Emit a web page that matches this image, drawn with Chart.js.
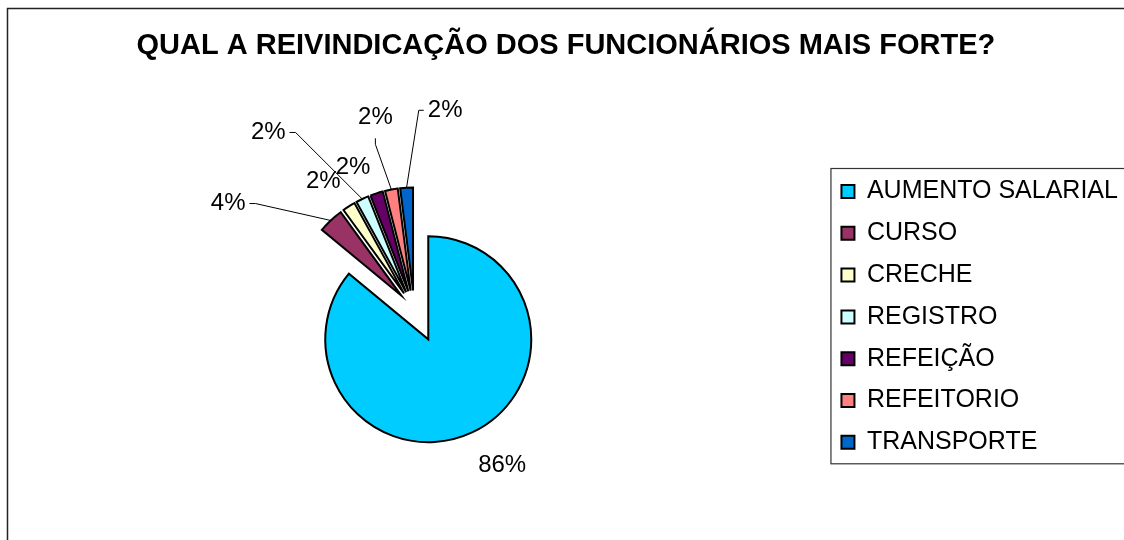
<!DOCTYPE html>
<html lang="pt">
<head>
    <meta charset="UTF-8">
    <title>Reivindicação dos funcionários</title>
    <script src="https://cdn.jsdelivr.net/npm/chart.js@4"></script>
    <style>
        body { margin: 0; background: #fff; }
        #wrap { width: 1124px; height: 540px; position: relative; }
    </style>
</head>
<body>
<div id="wrap"><canvas id="pieChart"></canvas></div>
<script>
    // data
    const categories = ["AUMENTO SALARIAL", "CURSO", "CRECHE", "REGISTRO", "REFEIÇÃO", "REFEITORIO", "TRANSPORTE"];
    const percentages = [86, 4, 2, 2, 2, 2, 2];
    const sliceColors = ["#00CCFF", "#993366", "#FFFFCC", "#CCFFFF", "#660066", "#FF8080", "#0066CC"];

    // how far each slice is pulled out of the pie (px)
    const explode = [33, 19, 19, 19, 19, 19, 19];
    // label placement relative to each slice: turn (deg) from bisector, gap outside the rim, leader side
    const labelPlacement = [
        { turn: -5.2, gap: 43, leader: null },
        { turn: -18.8, gap: 93, leader: "right" },
        { turn: -3.4, gap: 35, leader: null },
        { turn: -15.6, gap: 108, leader: "right" },
        { turn: -6, gap: 33, leader: null },
        { turn: -0.7, gap: 74, leader: "bottom" },
        { turn: 13.7, gap: 80, leader: "left" }
    ];

    Chart.defaults.font.family = '"Liberation Sans", Arial, sans-serif';
    Chart.defaults.color = "#000";

    const frame = {
        id: "frame",
        beforeDraw(chart) {
            const ctx = chart.ctx;
            ctx.save();
            ctx.fillStyle = "#fff";
            ctx.fillRect(0, 0, chart.width, chart.height);
            ctx.strokeStyle = "#222";
            ctx.lineWidth = 1.5;
            ctx.strokeRect(7.5, 8.5, chart.width + 20, chart.height + 20);
            // box round the legend
            const boxes = chart.legend.legendHitBoxes;
            if (boxes && boxes.length) {
                const first = boxes[0], last = boxes[boxes.length - 1];
                const top = first.top - 10.5;
                const bottom = last.top + last.height + 9;
                ctx.lineWidth = 1.2;
                ctx.strokeStyle = "#333";
                ctx.strokeRect(first.left - 10.5, top, chart.width + 20, bottom - top);
            }
            ctx.restore();
        }
    };

    const explodeSlices = {
        id: "explodeSlices",
        beforeDatasetsDraw(chart) {
            const area = chart.chartArea;
            const cx = (area.left + area.right) / 2;
            const cy = (area.top + area.bottom) / 2;
            chart.getDatasetMeta(0).data.forEach((arc, i) => {
                const mid = (arc.startAngle + arc.endAngle) / 2;
                arc.x = cx + Math.cos(mid) * explode[i];
                arc.y = cy + Math.sin(mid) * explode[i];
            });
        }
    };

    const pctLabels = {
        id: "pctLabels",
        afterDatasetsDraw(chart) {
            const ctx = chart.ctx;
            ctx.save();
            ctx.font = '24px "Liberation Sans", Arial, sans-serif';
            ctx.fillStyle = "#000";
            ctx.strokeStyle = "#000";
            ctx.lineWidth = 1;
            ctx.textAlign = "center";
            ctx.textBaseline = "middle";
            chart.getDatasetMeta(0).data.forEach((arc, i) => {
                const place = labelPlacement[i];
                const mid = (arc.startAngle + arc.endAngle) / 2;
                const a = mid + place.turn * Math.PI / 180;
                const r = arc.outerRadius;
                const lx = arc.x + Math.cos(a) * (r + place.gap);
                const ly = arc.y + Math.sin(a) * (r + place.gap);
                const text = percentages[i] + "%";
                ctx.fillText(text, lx, ly);
                if (place.leader) {
                    const w = ctx.measureText(text).width;
                    const ex = arc.x + Math.cos(mid) * r;
                    const ey = arc.y + Math.sin(mid) * r;
                    let sx = lx, sy = ly, kx, ky;
                    if (place.leader === "right") { sx = lx + w / 2 + 4; kx = sx + 6; ky = sy; }
                    else if (place.leader === "left") { sx = lx - w / 2 - 4; kx = sx - 5; ky = sy; }
                    else { sy = ly + 21; kx = sx; ky = sy + 6; }
                    ctx.beginPath();
                    ctx.moveTo(sx, sy);
                    ctx.lineTo(kx, ky);
                    ctx.lineTo(ex, ey);
                    ctx.stroke();
                }
            });
            ctx.restore();
        }
    };

    new Chart(document.getElementById("pieChart"), {
        type: "pie",
        data: {
            labels: categories,
            datasets: [{
                data: percentages,
                backgroundColor: sliceColors,
                borderColor: "#000",
                borderWidth: 2,
                borderJoinStyle: "miter",
                radius: 103
            }]
        },
        options: {
            responsive: true,
            maintainAspectRatio: false,
            animation: false,
            events: [],
            layout: { padding: { left: 3.8, right: -3.95, top: 0, bottom: 1 } },
            plugins: {
                title: {
                    display: true,
                    text: "QUAL A REIVINDICAÇÃO DOS FUNCIONÁRIOS MAIS FORTE?",
                    font: { size: 29, weight: "bold" },
                    color: "#000",
                    padding: { top: 29, bottom: 16 }
                },
                legend: {
                    position: "right",
                    title: { display: true, text: "", font: { size: 8 }, padding: { top: 43, bottom: 42.2 } },
                    labels: {
                        boxWidth: 13,
                        boxHeight: 13,
                        padding: 16.8,
                        font: { size: 25 },
                        color: "#000"
                    }
                },
                tooltip: { enabled: false }
            }
        },
        plugins: [frame, explodeSlices, pctLabels]
    });
</script>
</body>
</html>
